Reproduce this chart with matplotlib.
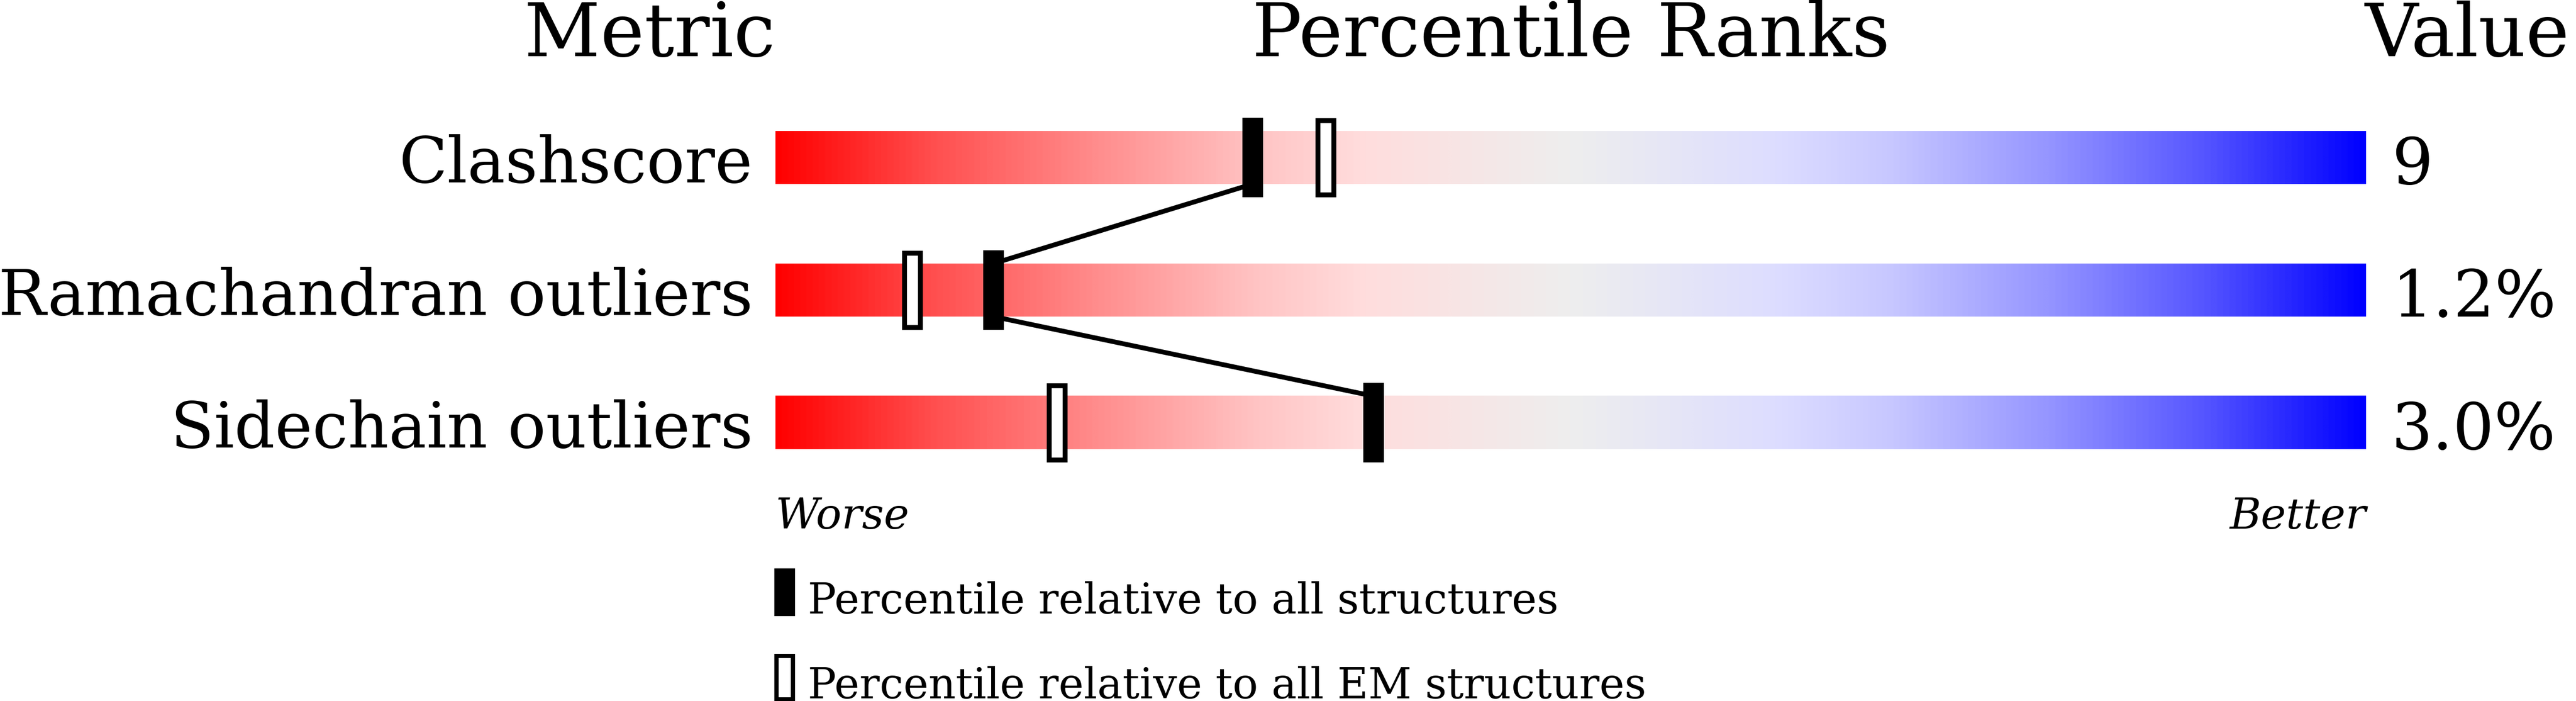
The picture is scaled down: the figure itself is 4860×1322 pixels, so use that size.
import numpy as np
import matplotlib
matplotlib.use("Agg")
import matplotlib.pyplot as plt
from matplotlib.colors import LinearSegmentedColormap
from matplotlib.patches import Rectangle

# ---------------- data ----------------
metrics = ["Clashscore", "Ramachandran outliers", "Sidechain outliers"]
values = ["9", "1.2%", "3.0%"]
pct_all = [30.0, 13.7, 37.6]        # percentile relative to all structures
pct_em = [34.6, 8.6, 17.7]          # percentile relative to all EM structures
legend_labels = ["Percentile relative to all structures",
                 "Percentile relative to all EM structures"]

# ---------------- style ----------------
plt.rcParams['font.family'] = ['DejaVu Serif']
W, H, DPI = 4860, 1322, 100
fig = plt.figure(figsize=(W / DPI, H / DPI), dpi=DPI)
fig.patch.set_facecolor("white")

# axes spans bar horizontally (pixels 1463..4464), full height vertically
x0_px, x1_px = 1463, 4464
ax = fig.add_axes([x0_px / W, 0, (x1_px - x0_px) / W, 1])
row_px0, row_step = 297, 250
ax.set_xlim(0, 100)
ax.set_ylim((H - row_px0) / row_step, -row_px0 / row_step)
ax.axis("off")
ux = (x1_px - x0_px) / 100.0          # px per x unit


def c(v, blue=False):
    v = v / 255.0
    return (v, v, 1.0) if blue else (1.0, v, v)


cmap = LinearSegmentedColormap.from_list(
    "slider",
    [(0.0, c(0)), (0.1, c(80)), (0.2, c(140)), (0.3, c(195)),
     (0.37, c(221)),
     (0.5, (238 / 255, 238 / 255, 238 / 255)),
     (0.63, c(221, True)), (0.7, c(200, True)), (0.8, c(150, True)),
     (0.9, c(85, True)), (1.0, c(0, True))])
grad = np.linspace(0, 1, 1024)[None, :]

bar_h = 0.4
mk_h = 0.6
bw = 9.3  # px border of open markers
mk_w = 39 / ux

for i, (m, v) in enumerate(zip(metrics, values)):
    ax.imshow(grad, cmap=cmap, aspect="auto",
              extent=[0, 100, i + bar_h / 2, i - bar_h / 2],
              interpolation="bilinear", zorder=1)
    ax.text(-43 / ux, i + 0.19, m, ha="right", va="baseline", fontsize=86,
            clip_on=False)
    ax.text(101.6, i + 0.2, v, ha="left", va="baseline", fontsize=88,
            clip_on=False)

# connecting line between "all structures" markers
lx, ly = [], []
for i, p in enumerate(pct_all):
    lx += [p, p]
    ly += [i - bar_h / 2, i + bar_h / 2]
ax.plot(lx[1:-1], ly[1:-1], color="black", lw=9 * 0.72,
        solid_capstyle="butt", zorder=2, clip_on=False)

for i, (pa, pe) in enumerate(zip(pct_all, pct_em)):
    ax.add_patch(Rectangle((pa - mk_w / 2, i - mk_h / 2), mk_w, mk_h,
                           facecolor="black", edgecolor="none", zorder=3))
    iw = (39 - bw) / ux
    ih = mk_h - bw / row_step
    ax.add_patch(Rectangle((pe - iw / 2, i - ih / 2), iw, ih,
                           facecolor="white", edgecolor="black",
                           lw=bw * 0.72, joinstyle="miter", zorder=3))

# headers
hy = (106 - row_px0) / row_step
ax.text(0, hy, "Metric", ha="right", va="baseline", fontsize=101, clip_on=False)
ax.text(50, hy, "Percentile Ranks", ha="center", va="baseline", fontsize=101,
        clip_on=False)
ax.text(100 - 3 / ux, hy, "Value", ha="left", va="baseline", fontsize=100,
        clip_on=False)

# worse / better
wy = (997 - row_px0) / row_step
ax.text(0, wy, "Worse", ha="left", va="baseline", fontsize=58,
        style="italic", clip_on=False)
ax.text(100, wy, "Better", ha="right", va="baseline", fontsize=58,
        style="italic", clip_on=False)

# legend
lg_top = [(1072 - row_px0) / row_step, (1232.5 - row_px0) / row_step]
lg_h = 90 / row_step
lg_x = -2 / ux
lg_w = 39 / ux
ax.add_patch(Rectangle((lg_x, lg_top[0]), lg_w, lg_h, facecolor="black",
                       edgecolor="none", clip_on=False, zorder=3))
lb = 8
ax.add_patch(Rectangle((lg_x + lb / 2 / ux, lg_top[1] + lb / 2 / row_step),
                       lg_w - lb / ux, lg_h - lb / row_step,
                       facecolor="white", edgecolor="black", lw=lb * 0.72,
                       joinstyle="miter", clip_on=False, zorder=3))
for k, lab in enumerate(legend_labels):
    ax.text(61 / ux, lg_top[k] + 84.5 / row_step, lab, ha="left",
            va="baseline", fontsize=57.5, clip_on=False)

fig.savefig("out.png", dpi=DPI, facecolor="white")
